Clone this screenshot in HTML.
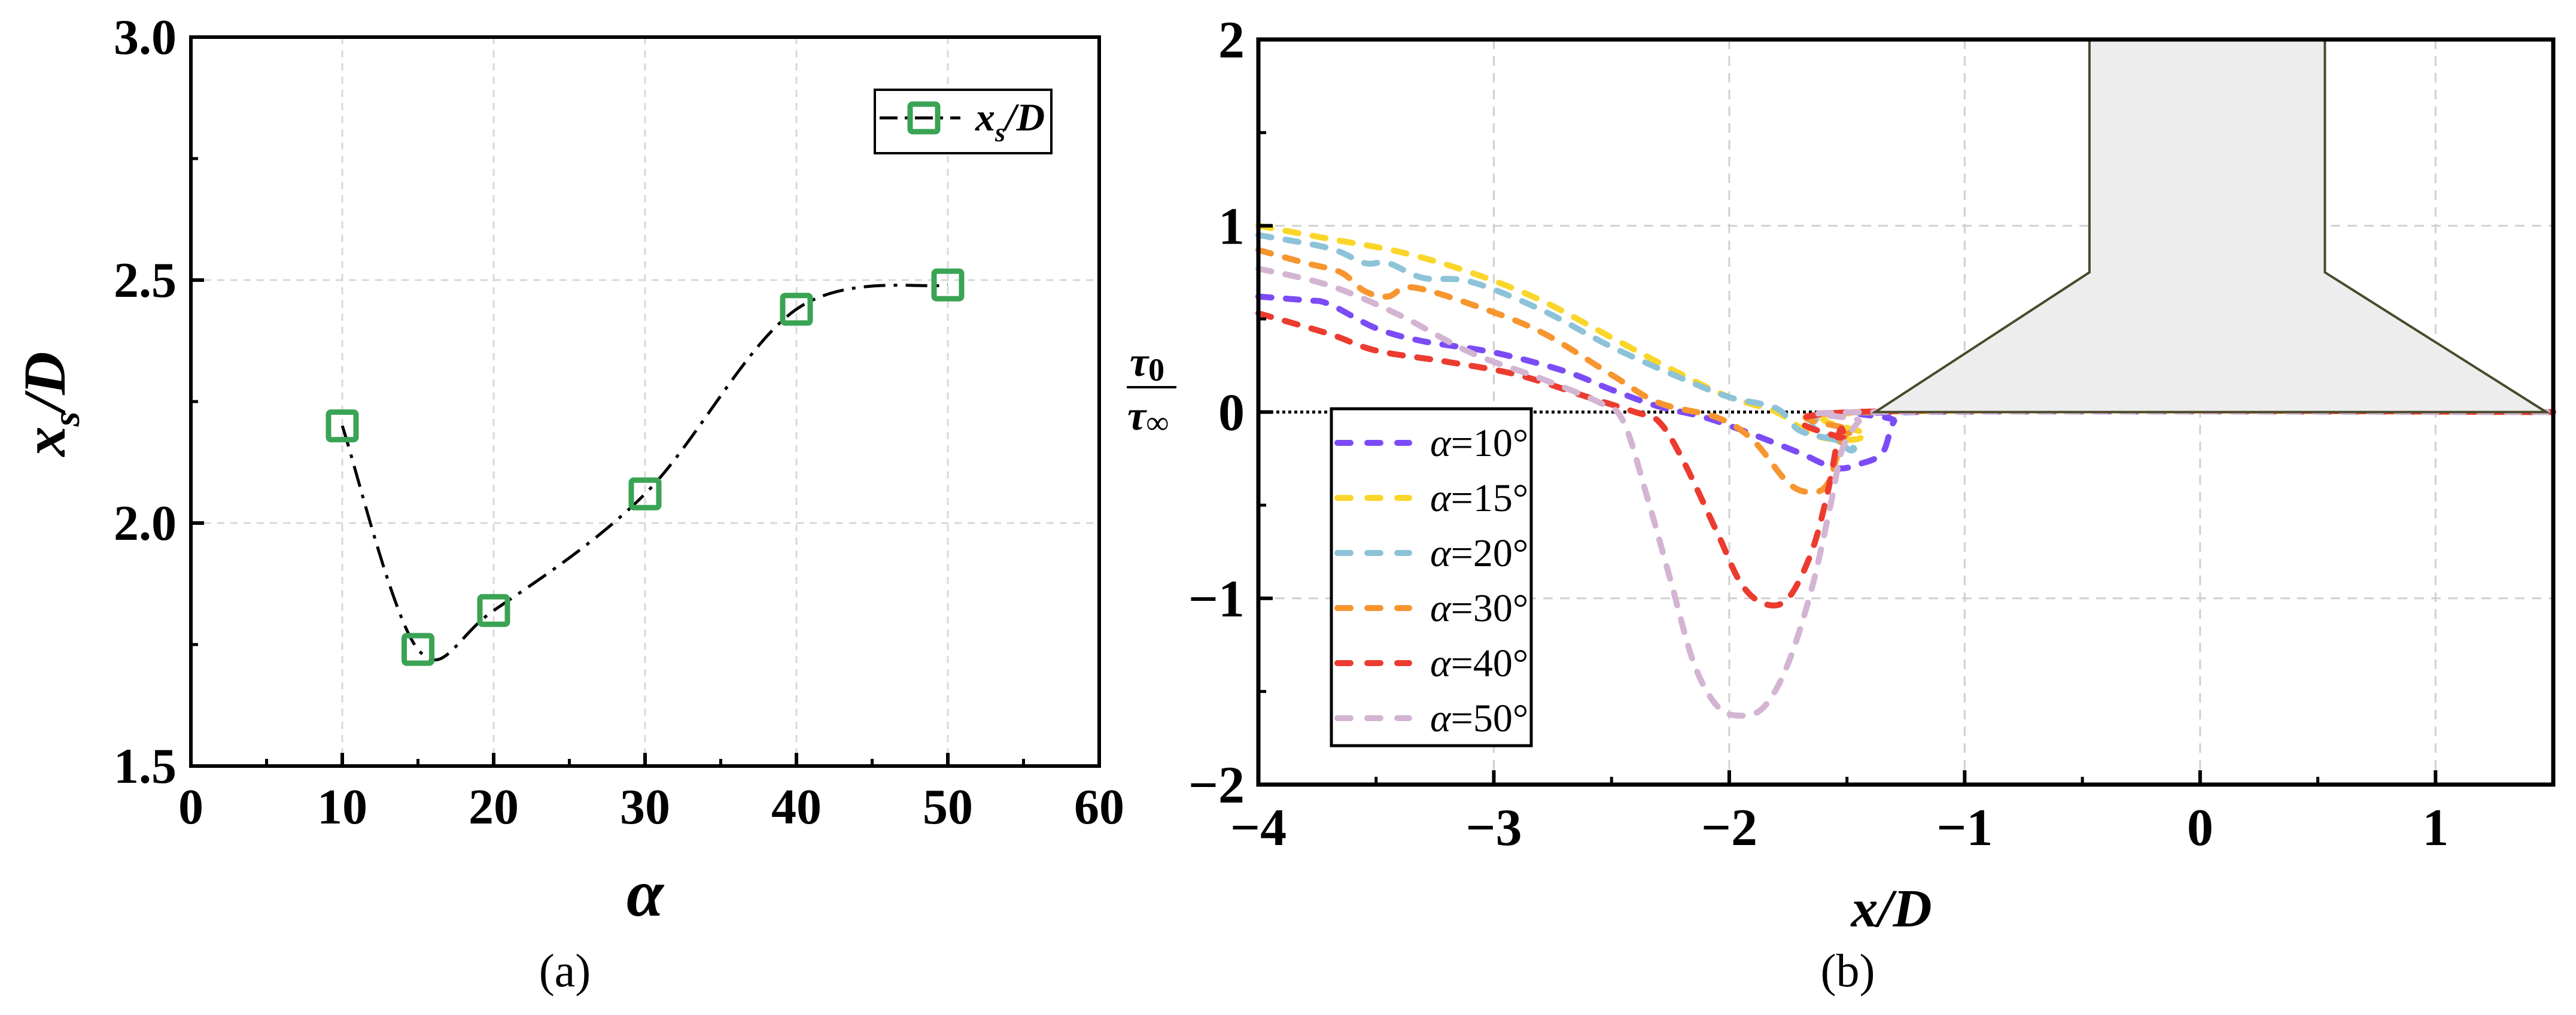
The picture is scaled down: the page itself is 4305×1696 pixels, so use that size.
<!DOCTYPE html>
<html><head><meta charset="utf-8"><style>
html,body{margin:0;padding:0;background:#fff}
svg{display:block}
text{font-family:"Liberation Serif",serif}
</style></head><body>
<svg id="fig" width="4305" height="1696" viewBox="0 0 4305 1696" xmlns="http://www.w3.org/2000/svg">
<g id="pa"></g>
<g id="pb"></g>
</svg>
<script>
// Panel (a) data
const alphaVals = [10, 15, 20, 30, 40, 50];
const xsD = [2.2, 1.74, 1.82, 2.06, 2.44, 2.49];
const aXTicks = [0, 10, 20, 30, 40, 50, 60];
const aYTicks = [1.5, 2.0, 2.5, 3.0];
const aYTickLabels = ["1.5", "2.0", "2.5", "3.0"];

// Panel (b) data
const seriesNames = ["α=10°", "α=15°", "α=20°", "α=30°", "α=40°", "α=50°"];
const s10x = [-4,-3.8,-3.7,-3.5,-3.3,-3,-2.7,-2.5,-2.3,-2.1,-1.9,-1.7,-1.55,-1.45,-1.35,-1.3,-1.22,1.5];
const s10y = [0.62,0.6,0.58,0.45,0.38,0.32,0.22,0.12,0.03,-0.03,-0.12,-0.22,-0.3,-0.28,-0.22,-0.05,0,0];
const s15x = [-4,-3.7,-3.4,-3.1,-2.8,-2.5,-2.2,-2,-1.8,-1.65,-1.5,-1.42,-1.38,1.5];
const s15y = [1.0,0.93,0.86,0.75,0.6,0.4,0.2,0.08,0,-0.12,-0.15,-0.12,0,0];
const s20x = [-4,-3.7,-3.55,-3.45,-3.3,-3.1,-2.8,-2.5,-2.2,-2,-1.8,-1.7,-1.55,-1.47,-1.42,1.5];
const s20y = [0.95,0.88,0.8,0.8,0.72,0.7,0.55,0.35,0.18,0.08,0.02,-0.1,-0.15,-0.2,0,0];
const s30x = [-4,-3.8,-3.65,-3.55,-3.45,-3.35,-3.1,-2.8,-2.5,-2.3,-2.05,-1.9,-1.75,-1.65,-1.58,-1.52,-1.48,-1.45,1.5];
const s30y = [0.87,0.8,0.75,0.65,0.62,0.67,0.58,0.43,0.2,0.05,-0.03,-0.15,-0.38,-0.43,-0.38,-0.15,-0.1,0,0];
const s40x = [-4,-3.7,-3.5,-3.2,-2.9,-2.6,-2.4,-2.3,-2.2,-2.05,-1.95,-1.85,-1.75,-1.65,-1.58,-1.53,-1.5,-1.47,1.5];
const s40y = [0.53,0.42,0.33,0.27,0.2,0.08,0,-0.05,-0.25,-0.65,-0.92,-1.03,-1.0,-0.75,-0.42,-0.1,-0.15,0,0];
const s50x = [-4,-3.7,-3.4,-3.1,-2.8,-2.55,-2.45,-2.35,-2.25,-2.15,-2.05,-1.95,-1.85,-1.75,-1.65,-1.57,-1.52,-1.45,-1.4,1.5];
const s50y = [0.77,0.68,0.52,0.32,0.18,0.05,-0.05,-0.45,-0.9,-1.35,-1.58,-1.63,-1.58,-1.35,-0.95,-0.5,-0.2,-0.05,0,0];
const seriesColors = ["#7b4cf6","#fbd62a","#8dc3d8","#f7952f","#ec3b2f","#d3b5d3"];
const bXTicks = [-4, -3, -2, -1, 0, 1];
const bXTickLabels = ["−4", "−3", "−2", "−1", "0", "1"];
const bYTicks = [-2, -1, 0, 1, 2];
const bYTickLabels = ["−2", "−1", "0", "1", "2"];
const pierX = [-0.47, -0.47, -1.38, 1.47, 0.53, 0.53];
const pierY = [2, 0.75, 0, 0, 0.75, 2];

const NS = "http://www.w3.org/2000/svg";
function mk(parent, tag, attrs, txt) {
  const e = document.createElementNS(NS, tag);
  for (const k in attrs) e.setAttribute(k, attrs[k]);
  if (txt !== undefined) e.textContent = txt;
  parent.appendChild(e);
  return e;
}
function smooth(pts) {
  let d = "M" + pts[0][0] + "," + pts[0][1];
  for (let i = 0; i < pts.length - 1; i++) {
    const p0 = pts[i - 1] || pts[i], p1 = pts[i], p2 = pts[i + 1], p3 = pts[i + 2] || p2;
    const c1x = p1[0] + (p2[0] - p0[0]) / 6, c1y = p1[1] + (p2[1] - p0[1]) / 6;
    const c2x = p2[0] - (p3[0] - p1[0]) / 6, c2y = p2[1] - (p3[1] - p1[1]) / 6;
    d += " C" + c1x + "," + c1y + " " + c2x + "," + c2y + " " + p2[0] + "," + p2[1];
  }
  return d;
}

// ===== Panel A =====
const pa = document.getElementById("pa");
const aL = 319, aR = 1837, aT = 62, aB = 1280;
const ax = v => aL + (v - 0) / 60 * (aR - aL);
const ay = v => aB - (v - 1.5) / 1.5 * (aB - aT);
aXTicks.forEach(v => {
  if (v > 0 && v < 60) {
    const g = mk(pa, "line", {x1: ax(v), x2: ax(v), y1: aT, y2: aB, stroke: "#d8d8d8", "stroke-width": 3, "stroke-dasharray": "12 10"});
    
    
  }
});
[2.0, 2.5].forEach(v => {
  const g = mk(pa, "line", {x1: aL, x2: aR, y1: ay(v), y2: ay(v), stroke: "#d8d8d8", "stroke-width": 3, "stroke-dasharray": "12 10"});
  
  
});
const aFrame = mk(pa, "rect", {x: aL, y: aT, width: aR - aL, height: aB - aT, fill: "none", stroke: "#000", "stroke-width": 6});


aXTicks.forEach((v, i) => {
  mk(pa, "line", {x1: ax(v), x2: ax(v), y1: aB, y2: aB - 22, stroke: "#000", "stroke-width": 6});
  if (i < aXTicks.length - 1) mk(pa, "line", {x1: ax(v + 5), x2: ax(v + 5), y1: aB, y2: aB - 12, stroke: "#000", "stroke-width": 5});
  const t = mk(pa, "text", {x: ax(v), y: 1376, "font-size": 84, "font-weight": "bold", "text-anchor": "middle"}, String(v));
  
  
});
aYTicks.forEach((v, i) => {
  mk(pa, "line", {x1: aL, x2: aL + 22, y1: ay(v), y2: ay(v), stroke: "#000", "stroke-width": 6});
  if (i < aYTicks.length - 1) mk(pa, "line", {x1: aL, x2: aL + 12, y1: ay(v + 0.25), y2: ay(v + 0.25), stroke: "#000", "stroke-width": 5});
  const t = mk(pa, "text", {x: 295, y: ay(v) + 28, "font-size": 84, "font-weight": "bold", "text-anchor": "end"}, aYTickLabels[i]);
  
  
});
const aPts = alphaVals.map((a, i) => [ax(a), ay(xsD[i])]);
const aLine = mk(pa, "path", {d: smooth(aPts), fill: "none", stroke: "#000", "stroke-width": 5, "stroke-dasharray": "36 14 6 14"});


aPts.forEach(p => {
  const m = mk(pa, "rect", {x: p[0] - 23, y: p[1] - 23, width: 46, height: 46, rx: 4, fill: "none", stroke: "#3aa354", "stroke-width": 9});
  
  
});
const aLeg = mk(pa, "g", {});


mk(aLeg, "rect", {x: 1462, y: 150, width: 295, height: 106, fill: "#fff", stroke: "#000", "stroke-width": 4});
mk(aLeg, "line", {x1: 1470, x2: 1605, y1: 197, y2: 197, stroke: "#000", "stroke-width": 5, "stroke-dasharray": "30 12 5 12"});
mk(aLeg, "rect", {x: 1521, y: 174, width: 46, height: 46, rx: 4, fill: "none", stroke: "#3aa354", "stroke-width": 9});
const lt = mk(aLeg, "text", {x: 1630, y: 218, "font-size": 66, "font-weight": "bold", "font-style": "italic"});
mk(lt, "tspan", {}, "x");
mk(lt, "tspan", {"font-size": 44, dy: 18}, "s");
mk(lt, "tspan", {dy: -18}, "/D");
const ytA = mk(pa, "text", {transform: "translate(108,675) rotate(-90)", "font-size": 100, "font-weight": "bold", "font-style": "italic", "text-anchor": "middle"});


mk(ytA, "tspan", {}, "x");
mk(ytA, "tspan", {"font-size": 64, dy: 24}, "s");
mk(ytA, "tspan", {dy: -24}, "/D");
const xtA = mk(pa, "text", {x: 1078, y: 1530, "font-size": 112, "font-weight": "bold", "font-style": "italic", "text-anchor": "middle"}, "α");


const capA = mk(pa, "text", {x: 944, y: 1648, "font-size": 78, "text-anchor": "middle"}, "(a)");



// ===== Panel B =====
const pb = document.getElementById("pb");
const bL = 2103, bR = 4267, bT = 66, bB = 1311;
const bx = v => bL + (v + 4) / 5.5 * (bR - bL);
const by = v => bB - (v + 2) / 4 * (bB - bT);
bXTicks.forEach(v => {
  if (v > -4) {
    const g = mk(pb, "line", {x1: bx(v), x2: bx(v), y1: bT, y2: bB, stroke: "#d0d0d0", "stroke-width": 3, "stroke-dasharray": "16 12"});
    
    
  }
});
[-1, 1].forEach(v => {
  const g = mk(pb, "line", {x1: bL, x2: bR, y1: by(v), y2: by(v), stroke: "#d0d0d0", "stroke-width": 3, "stroke-dasharray": "16 12"});
  
  
});
const zl = mk(pb, "line", {x1: bL, x2: bx(-1.38), y1: by(0), y2: by(0), stroke: "#000", "stroke-width": 5, "stroke-dasharray": "5 5"});


const allX = [s10x, s15x, s20x, s30x, s40x, s50x];
const allY = [s10y, s15y, s20y, s30y, s40y, s50y];
allX.forEach((xs, k) => {
  const pts = xs.map((x, i) => [bx(x), by(allY[k][i])]);
  const p = mk(pb, "path", {d: smooth(pts), fill: "none", stroke: seriesColors[k], "stroke-width": 10, "stroke-linecap": "round", "stroke-dasharray": "22 24"});
  
  
});
const pier = mk(pb, "polygon", {points: pierX.map((x, i) => bx(x) + "," + by(pierY[i])).join(" "), fill: "#ededed", stroke: "#4a4a2a", "stroke-width": 4});


const bFrame = mk(pb, "rect", {x: bL, y: bT, width: bR - bL, height: bB - bT, fill: "none", stroke: "#000", "stroke-width": 7});


bXTicks.forEach((v, i) => {
  mk(pb, "line", {x1: bx(v), x2: bx(v), y1: bB, y2: bB - 24, stroke: "#000", "stroke-width": 6});
  mk(pb, "line", {x1: bx(v + 0.5), x2: bx(v + 0.5), y1: bB, y2: bB - 13, stroke: "#000", "stroke-width": 5});
  const t = mk(pb, "text", {x: bx(v), y: 1412, "font-size": 88, "font-weight": "bold", "text-anchor": "middle"}, bXTickLabels[i]);
  
  
});
bYTicks.forEach((v, i) => {
  mk(pb, "line", {x1: bL, x2: bL + 24, y1: by(v), y2: by(v), stroke: "#000", "stroke-width": 6});
  if (i < bYTicks.length - 1) mk(pb, "line", {x1: bL, x2: bL + 13, y1: by(v + 0.5), y2: by(v + 0.5), stroke: "#000", "stroke-width": 5});
  const t = mk(pb, "text", {x: 2080, y: by(v) + 30, "font-size": 88, "font-weight": "bold", "text-anchor": "end"}, bYTickLabels[i]);
  
  
});
const bLeg = mk(pb, "g", {});


mk(bLeg, "rect", {x: 2225, y: 683, width: 334, height: 563, fill: "#fff", stroke: "#000", "stroke-width": 5});
seriesNames.forEach((n, k) => {
  const yy = 740 + k * 92;
  const l = mk(bLeg, "line", {x1: 2235, x2: 2355, y1: yy, y2: yy, stroke: seriesColors[k], "stroke-width": 10, "stroke-linecap": "round", "stroke-dasharray": "22 28"});
  
  
  const t = mk(bLeg, "text", {x: 2390, y: yy + 22, "font-size": 66});
  
  
  mk(t, "tspan", {"font-style": "italic"}, "α");
  mk(t, "tspan", {}, n.slice(1));
});
const yt = mk(pb, "g", {});


const t0 = mk(yt, "text", {x: 1888, y: 628, "font-size": 70, "font-weight": "bold", "font-style": "italic"}, "τ");
mk(t0, "tspan", {"font-size": 54, "font-style": "normal", dy: 8}, "0");
mk(yt, "line", {x1: 1883, x2: 1966, y1: 647, y2: 647, stroke: "#000", "stroke-width": 4});
const t1 = mk(yt, "text", {x: 1884, y: 718, "font-size": 70, "font-weight": "bold", "font-style": "italic"}, "τ");
mk(t1, "tspan", {"font-size": 54, "font-style": "normal", "font-weight": "normal", dy: 6}, "∞");
const xtB = mk(pb, "text", {x: 3161, y: 1548, "font-size": 90, "font-weight": "bold", "font-style": "italic", "text-anchor": "middle"}, "x/D");


const capB = mk(pb, "text", {x: 3088, y: 1648, "font-size": 78, "text-anchor": "middle"}, "(b)");


</script>
</body></html>
